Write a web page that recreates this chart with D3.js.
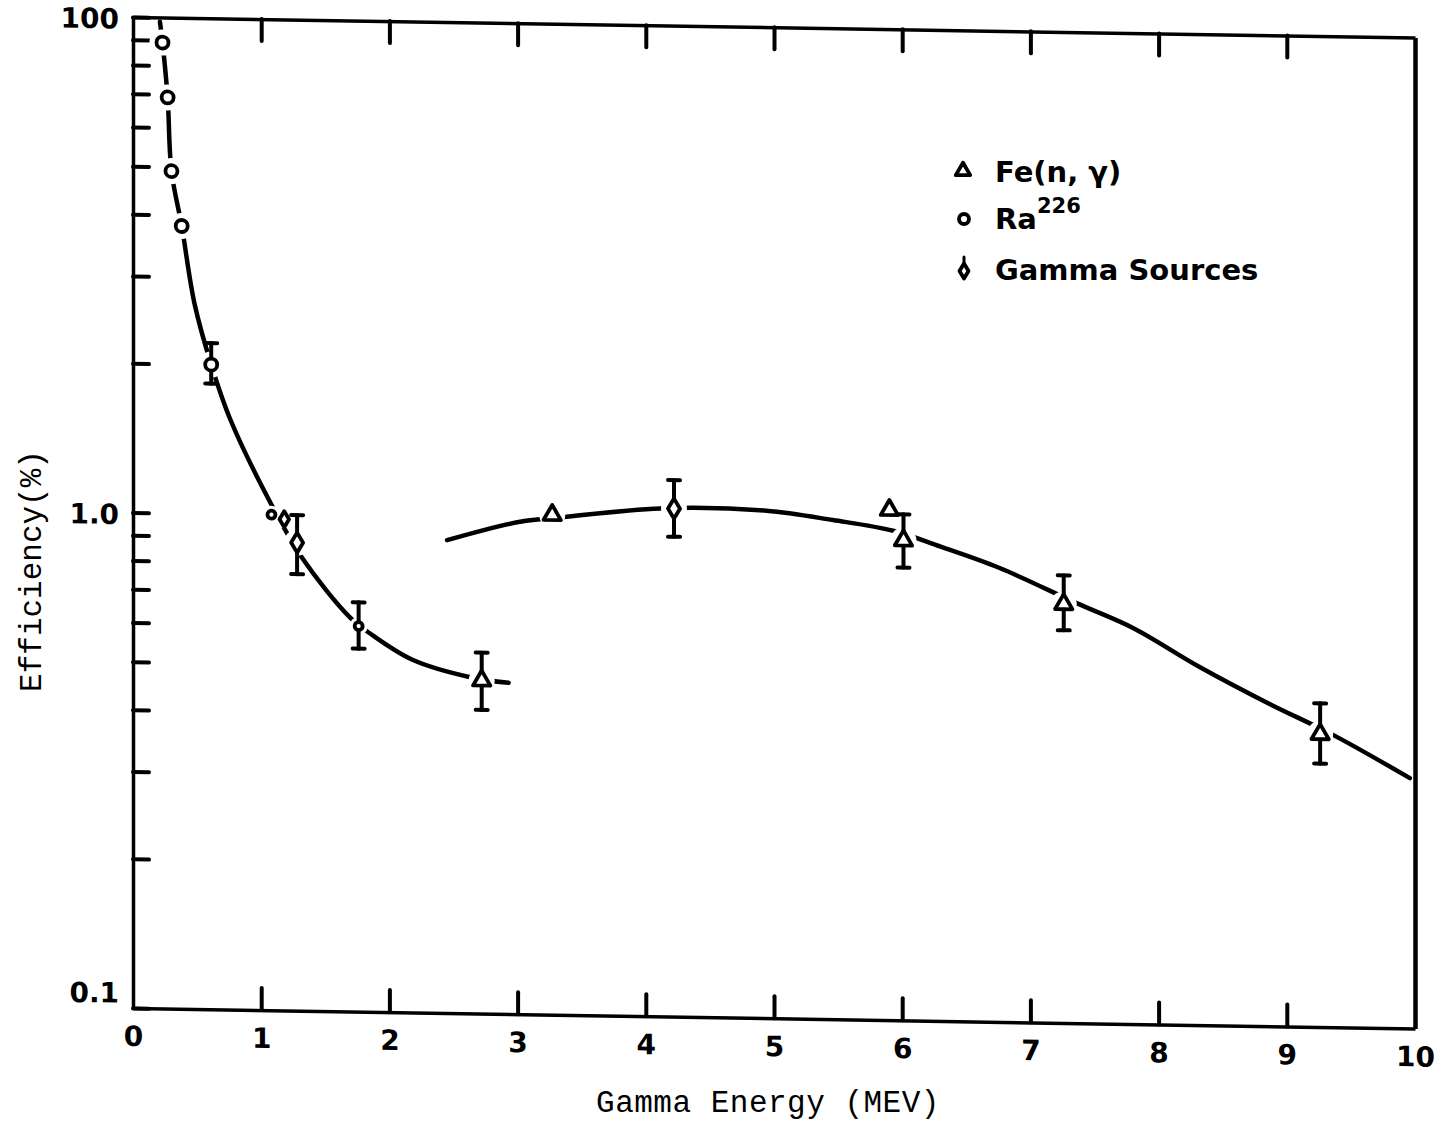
<!DOCTYPE html>
<html>
<head>
<meta charset="utf-8">
<script src="https://cdn.jsdelivr.net/npm/d3@7"></script>
<style>
  body { margin: 0; background: #fff; }
  svg { display: block; }
  .axis .domain { stroke: #000; stroke-width: 3.5; }
  .axis .tick line { stroke: #000; stroke-width: 4; stroke-linecap: round; }
  .axis text { font-family: "DejaVu Sans", sans-serif; font-weight: bold; font-size: 28px; fill: #000; }
  .curve { fill: none; stroke: #000; stroke-width: 4.5; stroke-linecap: round; }
  .err { stroke: #000; stroke-width: 4; stroke-linecap: round; }
  .mark { fill: #fff; stroke: #000; stroke-width: 3.8; stroke-linejoin: round; }
  .title { font-family: "Liberation Mono", monospace; font-size: 31px; fill: #000; }
  .legend text { font-family: "DejaVu Sans", sans-serif; font-weight: bold; font-size: 29px; fill: #000; }
</style>
</head>
<body>
<div id="chart"></div>
<script>
// ---- data (energy in MeV, efficiency in %) ----
var raE   = [0.23, 0.27, 0.30, 0.38, 0.61, 1.08, 1.76];
var raEff = [8.9, 6.9, 4.9, 3.8, 2.0, 1.0, 0.60];
var raErr = [null, null, null, null, [1.83, 2.21], null, [0.54, 0.67]];

var gsE   = [1.18, 1.28, 4.22];
var gsEff = [0.98, 0.88, 1.06];
var gsErr = [null, [0.76, 1.0], [0.93, 1.21]];

var feE   = [2.72, 3.27, 5.90, 6.01, 7.26, 9.26];
var feEff = [0.47, 1.02, 1.07, 0.93, 0.70, 0.39];
var feErr = [[0.41, 0.535], null, null, [0.82, 1.05], [0.62, 0.80], [0.34, 0.45]];

// hand drawn curves
var lowCurveE   = [0.21, 0.23, 0.27, 0.30, 0.38, 0.48, 0.61, 0.76, 1.07, 1.32, 1.69, 1.85, 2.18, 2.63, 2.93];
var lowCurveEff = [9.8, 8.9, 6.9, 4.9, 3.8, 2.65, 2.0, 1.55, 1.06, 0.82, 0.625, 0.58, 0.515, 0.477, 0.466];
var highCurveE   = [2.45, 3.02, 3.35, 4.11, 4.94, 5.46, 5.93, 6.30, 6.76, 7.36, 7.80, 8.32, 8.85, 9.36, 9.96];
var highCurveEff = [0.90, 0.986, 1.01, 1.06, 1.057, 1.017, 0.972, 0.906, 0.824, 0.704, 0.63, 0.528, 0.449, 0.389, 0.32];

var xTicks = [0, 1, 2, 3, 4, 5, 6, 7, 8, 9, 10];
var xTickLabels = ["0", "1", "2", "3", "4", "5", "6", "7", "8", "9", "10"];
var yTicks = [0.1, 1, 10];
var yTickLabels = ["0.1", "1.0", "100"];
var yMinor = [0.2, 0.3, 0.4, 0.5, 0.6, 0.7, 0.8, 0.9, 2, 3, 4, 5, 6, 7, 8, 9];

var legendLabels = ["Fe(n, γ)", "Ra", "Gamma Sources"];

// ---- layout ----
var width = 1437, height = 1126;
var plotW = 1282, plotH = 991;
var skew = 0.016;   // the scan is slightly tilted

var svg = d3.select("#chart").append("svg")
    .attr("width", width)
    .attr("height", height);

svg.append("rect").attr("width", width).attr("height", height).attr("fill", "#fff");

var g = svg.append("g")
    .attr("transform", "matrix(1," + skew + ",0,1,133,17)");

var xScale = d3.scaleLinear().domain([0, 10]).range([0, plotW]);
var yScale = d3.scaleLog().domain([0.1, 10]).range([plotH, 0]);

// axes
g.append("g")
    .attr("class", "axis")
    .call(d3.axisLeft(yScale).tickValues(yTicks)
        .tickFormat(function(d, i) { return yTickLabels[i]; })
        .tickSizeInner(-16).tickSizeOuter(0).tickPadding(14))
    .selectAll("text")
    .attr("dy", function(d) { return d === 0.1 ? "-0.2em" : "0.4em"; });

g.append("g")
    .attr("class", "axis")
    .call(d3.axisLeft(yScale).tickValues(yMinor).tickFormat("")
        .tickSizeInner(-16).tickSizeOuter(0))
    .select(".domain").remove();

g.append("g")
    .attr("class", "axis")
    .attr("transform", "translate(0," + plotH + ")")
    .call(d3.axisBottom(xScale).tickValues(xTicks)
        .tickFormat(function(d, i) { return xTickLabels[i]; })
        .tickSizeInner(-22).tickSizeOuter(0).tickPadding(18))
    .selectAll(".tick line")
    .attr("opacity", function(d) { return d === 0 || d === 10 ? 0 : 1; });

g.append("g")
    .attr("class", "axis")
    .call(d3.axisTop(xScale).tickValues(xTicks.slice(1, 10)).tickFormat("")
        .tickSizeInner(-22).tickSizeOuter(0));

g.append("g")
    .attr("class", "axis")
    .attr("transform", "translate(" + plotW + ",0)")
    .call(d3.axisRight(yScale).tickValues([]).tickSizeOuter(0))
    .select(".domain").style("stroke-width", 4.5);

// curves
var line = d3.line()
    .curve(d3.curveCatmullRom.alpha(0.5))
    .x(function(d) { return xScale(d[0]); })
    .y(function(d) { return yScale(d[1]); });

g.append("path").attr("class", "curve")
    .attr("d", line(d3.zip(lowCurveE, lowCurveEff)));
g.append("path").attr("class", "curve")
    .attr("d", line(d3.zip(highCurveE, highCurveEff)));

// points
var points = [];
raE.forEach(function(e, i) { points.push({e: e, v: raEff[i], err: raErr[i], type: "ra", small: e > 1}); });
gsE.forEach(function(e, i) { points.push({e: e, v: gsEff[i], err: gsErr[i], type: "gs", small: i === 0}); });
feE.forEach(function(e, i) { points.push({e: e, v: feEff[i], err: feErr[i], type: "fe"}); });

// white halos break the curve near each point, as in the drawing
g.selectAll(".halo").data(points).enter().append("circle")
    .attr("cx", function(d) { return xScale(d.e); })
    .attr("cy", function(d) { return yScale(d.v); })
    .attr("r", function(d) { return d.small ? 9 : 13; })
    .attr("fill", "#fff");

var withErr = points.filter(function(d) { return d.err; });
var eb = g.selectAll(".eb").data(withErr).enter().append("g");
eb.append("line").attr("class", "err")
    .attr("x1", function(d) { return xScale(d.e); })
    .attr("x2", function(d) { return xScale(d.e); })
    .attr("y1", function(d) { return yScale(d.err[0]); })
    .attr("y2", function(d) { return yScale(d.err[1]); });
[0, 1].forEach(function(k) {
  eb.append("line").attr("class", "err")
      .attr("x1", function(d) { return xScale(d.e) - 6; })
      .attr("x2", function(d) { return xScale(d.e) + 6; })
      .attr("y1", function(d) { return yScale(d.err[k]); })
      .attr("y2", function(d) { return yScale(d.err[k]); });
});

var triangle = d3.symbol().type(d3.symbolTriangle).size(130);
function diamond(s) {
  var w = 6 * s, h = 10 * s;
  return "M0," + (-h) + "L" + w + ",0L0," + h + "L" + (-w) + ",0Z";
}

g.selectAll(".pt").data(points).enter().append("path")
    .attr("class", "mark")
    .attr("transform", function(d) { return "translate(" + xScale(d.e) + "," + yScale(d.v) + ")"; })
    .attr("d", function(d) {
      if (d.type === "fe") return triangle();
      if (d.type === "gs") return diamond(d.small ? 0.8 : 1);
      var r = d.small ? 4 : 6;
      return "M" + r + ",0A" + r + "," + r + " 0 1,1 " + (-r) + ",0A" + r + "," + r + " 0 1,1 " + r + ",0Z";
    });

// axis titles
svg.append("text").attr("class", "title")
    .attr("x", 768).attr("y", 1112)
    .attr("text-anchor", "middle")
    .style("letter-spacing", "0.5px")
    .text("Gamma Energy (MEV)");

svg.append("text").attr("class", "title")
    .attr("transform", "translate(41,571) rotate(-90)")
    .attr("text-anchor", "middle")
    .text("Efficiency(%)");

// legend
var legend = svg.append("g").attr("class", "legend");
legend.append("path").attr("class", "mark")
    .attr("transform", "translate(963,171)")
    .attr("d", d3.symbol().type(d3.symbolTriangle).size(90)());
legend.append("circle").attr("class", "mark")
    .attr("cx", 964).attr("cy", 219).attr("r", 5);
legend.append("path").attr("class", "mark")
    .attr("transform", "translate(964,271)")
    .attr("d", diamond(0.75));
legend.append("line").attr("class", "err")
    .attr("x1", 964).attr("x2", 964).attr("y1", 257).attr("y2", 262)
    .style("stroke-width", 3);

legend.append("text").attr("x", 995).attr("y", 182).text(legendLabels[0]);
var ra = legend.append("text").attr("x", 995).attr("y", 229).text(legendLabels[1]);
ra.append("tspan").attr("dy", -16).style("font-size", "21px").text("226");
legend.append("text").attr("x", 995).attr("y", 280).text(legendLabels[2]);
</script>
</body>
</html>
